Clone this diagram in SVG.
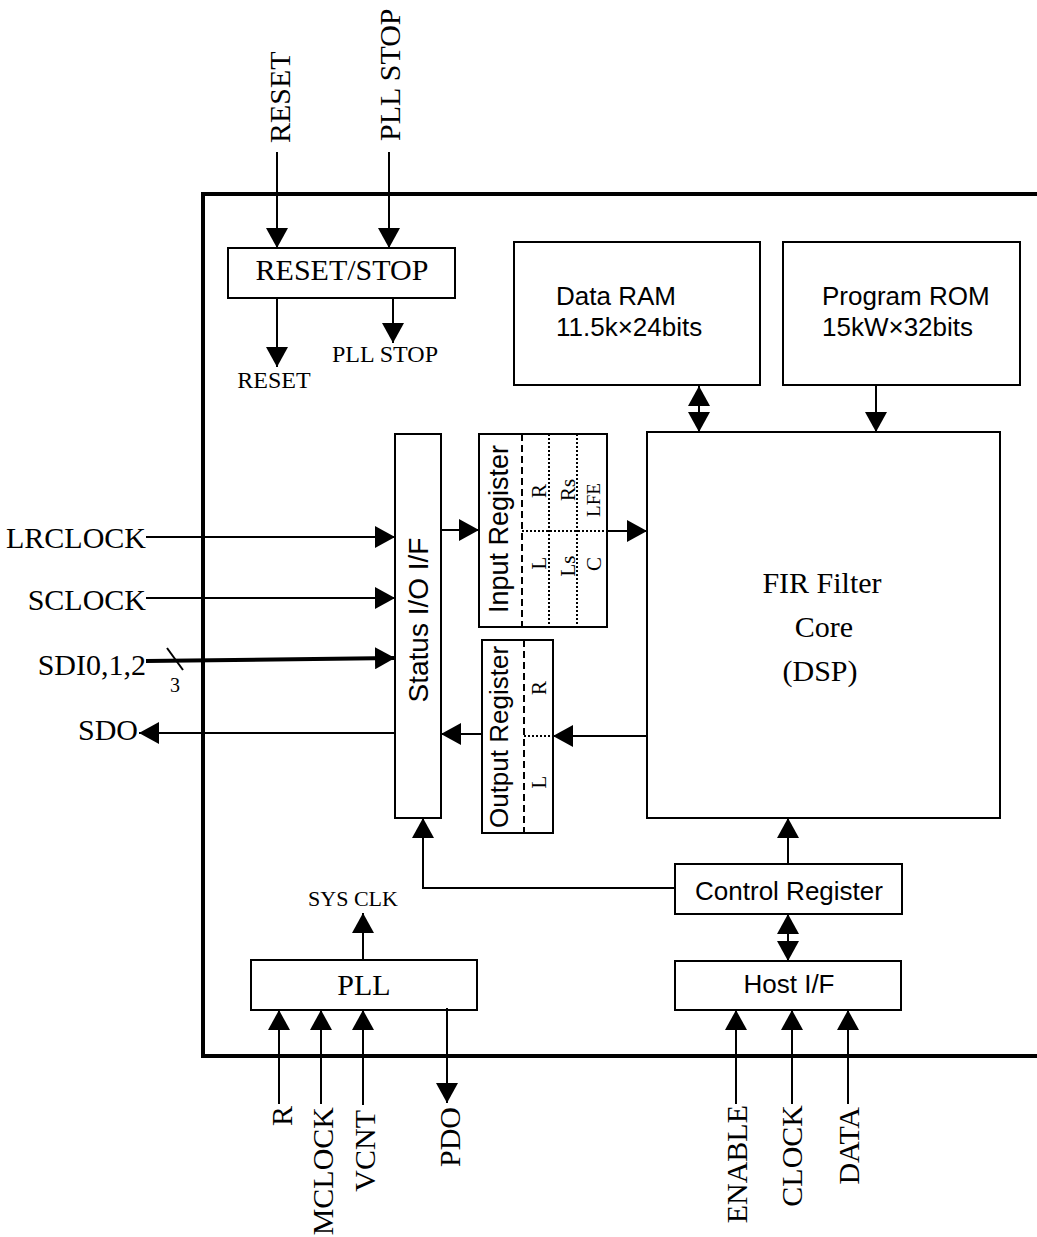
<svg xmlns="http://www.w3.org/2000/svg" width="1037" height="1237" viewBox="0 0 1037 1237">
<style>
.box{fill:#fff;stroke:#000;stroke-width:2}
.ln{fill:none;stroke:#000;stroke-width:2}
.serif{font-family:"Liberation Serif","Times New Roman",serif;fill:#000}
.sans{font-family:"Liberation Sans",Arial,sans-serif;fill:#000}
.dash{stroke:#000;stroke-width:2;stroke-dasharray:7,4;fill:none}
.dot{stroke:#000;stroke-width:2;stroke-dasharray:2,2;fill:none}
</style>
<defs>
<marker id="ah" viewBox="0 0 20 22" refX="20" refY="11" markerWidth="20" markerHeight="22" markerUnits="userSpaceOnUse" orient="auto-start-reverse">
<path d="M0,0 L20,11 L0,22 z" fill="#000"/>
</marker>
</defs>
<rect width="1037" height="1237" fill="#fff"/>
<g id="frame">
<path d="M1040,194 H203 V1056 H1040" fill="none" stroke="#000" stroke-width="4"/>
</g>
<g id="reset-stop">
<rect class="box" x="228" y="248" width="227" height="50"/>
<text class="serif" x="342" y="280" font-size="30" text-anchor="middle">RESET/STOP</text>
</g>
<g id="data-ram">
<rect class="box" x="514" y="242" width="246" height="143"/>
<text class="sans" x="556" y="305" font-size="26">Data RAM</text>
<text class="sans" x="556" y="336" font-size="26">11.5k×24bits</text>
</g>
<g id="program-rom">
<rect class="box" x="783" y="242" width="237" height="143"/>
<text class="sans" x="822" y="305" font-size="26">Program ROM</text>
<text class="sans" x="822" y="336" font-size="26">15kW×32bits</text>
</g>
<g id="fir-core">
<rect class="box" x="647" y="432" width="353" height="386"/>
<text class="serif" x="822" y="593" font-size="30" text-anchor="middle">FIR Filter</text>
<text class="serif" x="824" y="637" font-size="30" text-anchor="middle">Core</text>
<text class="serif" x="820" y="681" font-size="30" text-anchor="middle">(DSP)</text>
</g>
<g id="status-io">
<rect class="box" x="395" y="434" width="46" height="384"/>
<text class="sans" x="428" y="620" font-size="28" text-anchor="middle" transform="rotate(-90 428 620)">Status I/O I/F</text>
</g>
<g id="input-register">
<rect class="box" x="479" y="434" width="128" height="193"/>
<line class="dash" x1="522" y1="434" x2="522" y2="627"/>
<line class="dot" x1="549" y1="434" x2="549" y2="627"/>
<line class="dot" x1="577" y1="434" x2="577" y2="627"/>
<line class="dot" x1="522" y1="531" x2="607" y2="531"/>
<text class="sans" x="508" y="529" font-size="27" text-anchor="middle" transform="rotate(-90 508 529)">Input Register</text>
<text class="serif" x="546" y="491" font-size="21" text-anchor="middle" transform="rotate(-90 546 491)">R</text>
<text class="serif" x="575" y="490" font-size="21" text-anchor="middle" transform="rotate(-90 575 490)">Rs</text>
<text class="serif" x="600" y="500" font-size="19" text-anchor="middle" transform="rotate(-90 600 500)">LFE</text>
<text class="serif" x="546" y="563" font-size="21" text-anchor="middle" transform="rotate(-90 546 563)">L</text>
<text class="serif" x="575" y="566" font-size="21" text-anchor="middle" transform="rotate(-90 575 566)">Ls</text>
<text class="serif" x="601" y="564" font-size="21" text-anchor="middle" transform="rotate(-90 601 564)">C</text>
</g>
<g id="output-register">
<rect class="box" x="482" y="640" width="71" height="193"/>
<line class="dash" x1="524" y1="640" x2="524" y2="833"/>
<line class="dot" x1="524" y1="736" x2="553" y2="736"/>
<text class="sans" x="508" y="737" font-size="26" text-anchor="middle" transform="rotate(-90 508 737)">Output Register</text>
<text class="serif" x="546" y="688" font-size="21" text-anchor="middle" transform="rotate(-90 546 688)">R</text>
<text class="serif" x="546" y="782" font-size="21" text-anchor="middle" transform="rotate(-90 546 782)">L</text>
</g>
<g id="control-register">
<rect class="box" x="675" y="864" width="227" height="50"/>
<text class="sans" x="789" y="900" font-size="26" text-anchor="middle">Control Register</text>
</g>
<g id="host-if">
<rect class="box" x="675" y="961" width="226" height="49"/>
<text class="sans" x="789" y="993" font-size="26" text-anchor="middle">Host I/F</text>
</g>
<g id="pll">
<rect class="box" x="251" y="960" width="226" height="50"/>
<text class="serif" x="364" y="995" font-size="30" text-anchor="middle">PLL</text>
</g>
<g id="connectors">
<line class="ln" x1="277" y1="152" x2="277" y2="248" marker-end="url(#ah)"/>
<line class="ln" x1="389" y1="152" x2="389" y2="248" marker-end="url(#ah)"/>
<line class="ln" x1="277" y1="298" x2="277" y2="367" marker-end="url(#ah)"/>
<line class="ln" x1="393" y1="298" x2="393" y2="343" marker-end="url(#ah)"/>
<line class="ln" x1="699" y1="386" x2="699" y2="432" marker-start="url(#ah)" marker-end="url(#ah)"/>
<line class="ln" x1="876" y1="385" x2="876" y2="432" marker-end="url(#ah)"/>
<line class="ln" x1="146" y1="537" x2="395" y2="537" marker-end="url(#ah)"/>
<line class="ln" x1="146" y1="598" x2="395" y2="598" marker-end="url(#ah)"/>
<line fill="none" stroke="#000" stroke-width="4" x1="146" y1="661" x2="395" y2="658" marker-end="url(#ah)"/>
<line class="ln" x1="167" y1="648" x2="183" y2="670"/>
<line class="ln" x1="395" y1="733" x2="139" y2="733" marker-end="url(#ah)"/>
<line class="ln" x1="441" y1="530" x2="479" y2="530" marker-end="url(#ah)"/>
<line class="ln" x1="607" y1="531" x2="647" y2="531" marker-end="url(#ah)"/>
<line class="ln" x1="647" y1="736" x2="553" y2="736" marker-end="url(#ah)"/>
<line class="ln" x1="482" y1="734" x2="441" y2="734" marker-end="url(#ah)"/>
<line class="ln" x1="788" y1="864" x2="788" y2="818" marker-end="url(#ah)"/>
<polyline class="ln" points="675,888 423,888 423,818" marker-end="url(#ah)"/>
<line class="ln" x1="788" y1="914" x2="788" y2="961" marker-start="url(#ah)" marker-end="url(#ah)"/>
<line class="ln" x1="363" y1="960" x2="363" y2="913" marker-end="url(#ah)"/>
<line class="ln" x1="279" y1="1104" x2="279" y2="1010" marker-end="url(#ah)"/>
<line class="ln" x1="321" y1="1104" x2="321" y2="1010" marker-end="url(#ah)"/>
<line class="ln" x1="363" y1="1105" x2="363" y2="1010" marker-end="url(#ah)"/>
<line class="ln" x1="447" y1="1008" x2="447" y2="1103" marker-end="url(#ah)"/>
<line class="ln" x1="736" y1="1104" x2="736" y2="1010" marker-end="url(#ah)"/>
<line class="ln" x1="792" y1="1104" x2="792" y2="1010" marker-end="url(#ah)"/>
<line class="ln" x1="848" y1="1104" x2="848" y2="1010" marker-end="url(#ah)"/>
</g>
<g id="labels">
<text class="serif" x="290" y="143" font-size="30" transform="rotate(-90 290 143)">RESET</text>
<text class="serif" x="400" y="141" font-size="30" transform="rotate(-90 400 141)">PLL STOP</text>
<text class="serif" x="274" y="388" font-size="24" text-anchor="middle">RESET</text>
<text class="serif" x="385" y="362" font-size="24" text-anchor="middle">PLL STOP</text>
<text class="serif" x="146" y="548" font-size="30" text-anchor="end">LRCLOCK</text>
<text class="serif" x="146" y="610" font-size="30" text-anchor="end">SCLOCK</text>
<text class="serif" x="146" y="675" font-size="30" text-anchor="end">SDI0,1,2</text>
<text class="serif" x="175" y="692" font-size="20" text-anchor="middle">3</text>
<text class="serif" x="138" y="740" font-size="30" text-anchor="end">SDO</text>
<text class="serif" x="353" y="906" font-size="22" text-anchor="middle">SYS CLK</text>
<text class="serif" x="292" y="1106" font-size="30" text-anchor="end" transform="rotate(-90 292 1106)">R</text>
<text class="serif" x="333" y="1107" font-size="30" text-anchor="end" transform="rotate(-90 333 1107)">MCLOCK</text>
<text class="serif" x="375" y="1110" font-size="30" text-anchor="end" transform="rotate(-90 375 1110)">VCNT</text>
<text class="serif" x="460" y="1107" font-size="30" text-anchor="end" transform="rotate(-90 460 1107)">PDO</text>
<text class="serif" x="747" y="1105" font-size="30" text-anchor="end" transform="rotate(-90 747 1105)">ENABLE</text>
<text class="serif" x="802" y="1105" font-size="30" text-anchor="end" transform="rotate(-90 802 1105)">CLOCK</text>
<text class="serif" x="859" y="1107" font-size="30" text-anchor="end" transform="rotate(-90 859 1107)">DATA</text>
</g>
</svg>
